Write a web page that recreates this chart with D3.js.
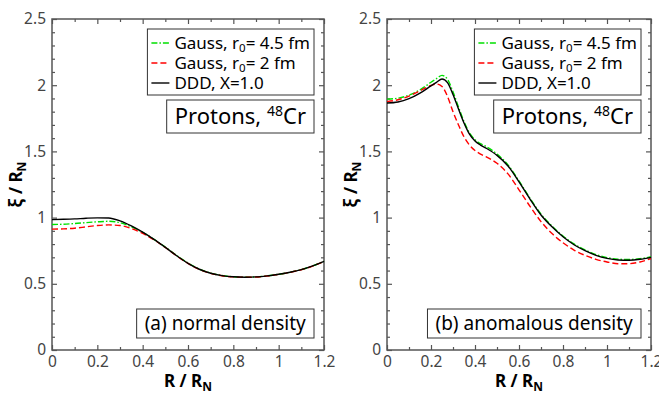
<!DOCTYPE html>
<html>
<head>
<meta charset="utf-8">
<script src="https://cdn.jsdelivr.net/npm/d3@7"></script>
<style>
  body { margin: 0; background: #fff; }
  text { font-family: "Noto Sans", sans-serif; }
</style>
</head>
<body>
<svg id="chart" width="659" height="394"></svg>
<script>
// ---- data ----
const rNormal = [0, 0.05, 0.1, 0.15, 0.2, 0.25, 0.3, 0.35, 0.4, 0.45, 0.5, 0.55, 0.6,
                 0.65, 0.7, 0.75, 0.8, 0.85, 0.9, 0.95, 1.0, 1.05, 1.1, 1.15, 1.2];
const normalDDD   = [0.985, 0.987, 0.99, 0.995, 0.998, 0.997, 0.975, 0.937, 0.89, 0.835, 0.775, 0.712, 0.655,
                     0.61, 0.58, 0.562, 0.553, 0.55, 0.552, 0.56, 0.572, 0.587, 0.607, 0.635, 0.67];
const normalGauss45 = [0.948, 0.95, 0.955, 0.962, 0.968, 0.972, 0.962, 0.93, 0.889, 0.836, 0.777, 0.714, 0.657,
                     0.611, 0.581, 0.563, 0.553, 0.55, 0.552, 0.56, 0.572, 0.587, 0.607, 0.635, 0.67];
const normalGauss2  = [0.913, 0.915, 0.92, 0.93, 0.94, 0.945, 0.94, 0.918, 0.881, 0.832, 0.774, 0.711, 0.654,
                     0.609, 0.579, 0.561, 0.552, 0.549, 0.551, 0.559, 0.571, 0.586, 0.606, 0.634, 0.669];

const rAnomal = [0, 0.05, 0.1, 0.15, 0.2, 0.225, 0.25, 0.275, 0.3, 0.325, 0.35, 0.375, 0.4, 0.425, 0.45,
                 0.5, 0.55, 0.6, 0.65, 0.7, 0.75, 0.8, 0.85, 0.9, 0.95, 1.0, 1.05, 1.1, 1.15, 1.2];
const anomalDDD     = [1.865, 1.873, 1.898, 1.94, 1.995, 2.022, 2.047, 2.02, 1.93, 1.82, 1.715, 1.63, 1.578, 1.548, 1.525,
                       1.47, 1.39, 1.27, 1.14, 1.02, 0.93, 0.855, 0.795, 0.75, 0.715, 0.692, 0.68, 0.678, 0.685, 0.70];
const anomalGauss45 = [1.895, 1.902, 1.925, 1.965, 2.022, 2.05, 2.074, 2.045, 1.95, 1.835, 1.725, 1.64, 1.588, 1.558, 1.537,
                       1.48, 1.398, 1.277, 1.146, 1.026, 0.936, 0.861, 0.801, 0.756, 0.721, 0.698, 0.686, 0.684, 0.69, 0.704];
const anomalGauss2  = [1.876, 1.89, 1.918, 1.958, 1.998, 2.009, 1.99, 1.915, 1.80, 1.70, 1.61, 1.548, 1.507, 1.48, 1.46,
                       1.41, 1.33, 1.21, 1.085, 0.97, 0.88, 0.81, 0.755, 0.715, 0.685, 0.665, 0.652, 0.652, 0.665, 0.69];

const xMajor = [0, 0.2, 0.4, 0.6, 0.8, 1.0, 1.2];
const xMinor = [0.1, 0.3, 0.5, 0.7, 0.9, 1.1];
const yMajor = [0, 0.5, 1, 1.5, 2, 2.5];
const yMinor = [0.1, 0.2, 0.3, 0.4, 0.6, 0.7, 0.8, 0.9, 1.1, 1.2, 1.3, 1.4,
                1.6, 1.7, 1.8, 1.9, 2.1, 2.2, 2.3, 2.4];

const seriesNames = ["Gauss, r|0|= 4.5 fm", "Gauss, r|0|= 2 fm", "DDD, X=1.0"];
const seriesColors = ["#00e000", "#ff0000", "#000000"];
const seriesDash = ["6,2,1.5,2", "6,3", null];

const svg = d3.select("#chart");
const axisColor = "#555";

function drawPanel(left, right, rs, series, tag) {
  const top = 19, bottom = 350;
  const x = d3.scaleLinear().domain([0, 1.2]).range([left, right]);
  const y = d3.scaleLinear().domain([0, 2.5]).range([bottom, top]);
  const g = svg.append("g");

  // axes: ticks inward on all sides
  const axes = [
    [d3.axisBottom(x), `translate(0,${bottom})`, xMajor, xMinor, true],
    [d3.axisTop(x), `translate(0,${top})`, xMajor, xMinor, false],
    [d3.axisLeft(y), `translate(${left},0)`, yMajor, yMinor, true],
    [d3.axisRight(y), `translate(${right},0)`, yMajor, yMinor, false]
  ];
  axes.forEach(([ax, tr, maj, min, lab]) => {
    g.append("g").attr("transform", tr)
      .call(ax.tickValues(min).tickSize(-3).tickFormat(""))
      .call(s => s.select(".domain").remove());
    const a = g.append("g").attr("transform", tr)
      .call(ax.tickValues(maj).tickSize(-5).tickPadding(6)
        .tickFormat(lab ? (d => d3.format("")(+d.toFixed(1))) : ""));
    a.select(".domain").remove();
  });
  g.selectAll(".tick line").attr("stroke", axisColor).attr("stroke-width", 1.2);
  g.selectAll(".tick text").attr("fill", "#444").style("font-size", "15.5px");
  g.append("rect").attr("x", left).attr("y", top)
    .attr("width", right - left).attr("height", bottom - top)
    .attr("fill", "none").attr("stroke", axisColor).attr("stroke-width", 1.5);

  // curves
  const line = d3.line().x((d, i) => x(rs[i])).y(d => y(d)).curve(d3.curveMonotoneX);
  series.forEach((vals, k) => {
    g.append("path").datum(vals).attr("d", line)
      .attr("fill", "none").attr("stroke", seriesColors[k])
      .attr("stroke-width", 1.4)
      .attr("stroke-dasharray", seriesDash[k]);
  });

  // legend
  const lg = g.append("g");
  const rowH = 20;
  seriesNames.forEach((name, k) => {
    const yy = 43 + k * rowH;
    lg.append("line").attr("x1", 0).attr("x2", 18).attr("y1", yy).attr("y2", yy)
      .attr("stroke", seriesColors[k]).attr("stroke-width", 1.4)
      .attr("stroke-dasharray", seriesDash[k]);
    const parts = name.split("|");
    const t = lg.append("text").attr("x", 23).attr("y", yy + 6).style("font-size", "17px");
    t.append("tspan").text(parts[0]);
    if (parts.length > 1) {
      t.append("tspan").attr("dy", 3).style("font-size", "11.5px").text(parts[1]);
      t.append("tspan").attr("dy", -3).text(parts[2]);
    }
  });
  const lb = lg.node().getBBox();
  const lgX = right - 10 - (lb.width + 8);
  lg.attr("transform", `translate(${lgX + 4},0)`);
  lg.insert("rect", ":first-child").attr("x", -4).attr("y", 29)
    .attr("width", lb.width + 8).attr("height", 66)
    .attr("fill", "#fff").attr("stroke", "#333").attr("stroke-width", 1);

  // boxed labels
  function boxLabel(yTop, h, size, build) {
    const bg = g.append("g");
    const t = bg.append("text").attr("x", 0).attr("y", yTop + h / 2 + size * 0.36)
      .style("font-size", size + "px");
    build(t);
    const b = t.node().getBBox();
    const w = b.width + 16;
    bg.attr("transform", `translate(${right - 10 - w + 8},0)`);
    bg.insert("rect", ":first-child").attr("x", -8).attr("y", yTop)
      .attr("width", w).attr("height", h)
      .attr("fill", "#fff").attr("stroke", "#333").attr("stroke-width", 1);
  }
  boxLabel(100, 33, 22, t => {
    t.append("tspan").text("Protons, ");
    t.append("tspan").attr("dy", -8).style("font-size", "14px").text("48");
    t.append("tspan").attr("dy", 8).text("Cr");
  });
  boxLabel(309, 29, 19, t => t.text(tag));

  // axis titles
  const xt = g.append("text").attr("x", (left + right) / 2).attr("y", 387)
    .attr("text-anchor", "middle").style("font-size", "17px").style("font-weight", "bold");
  xt.append("tspan").text("R / R");
  xt.append("tspan").attr("dy", 4).style("font-size", "12px").text("N");

  const yt = g.append("text")
    .attr("transform", `translate(${left - 30},${(top + bottom) / 2}) rotate(-90)`)
    .attr("text-anchor", "middle").style("font-size", "17px").style("font-weight", "bold");
  yt.append("tspan").text("ξ / R");
  yt.append("tspan").attr("dy", 4).style("font-size", "12px").text("N");
}

drawPanel(52, 324, rNormal, [normalGauss45, normalGauss2, normalDDD], "(a) normal density");
drawPanel(387, 651, rAnomal, [anomalGauss45, anomalGauss2, anomalDDD], "(b) anomalous density");
</script>
</body>
</html>
